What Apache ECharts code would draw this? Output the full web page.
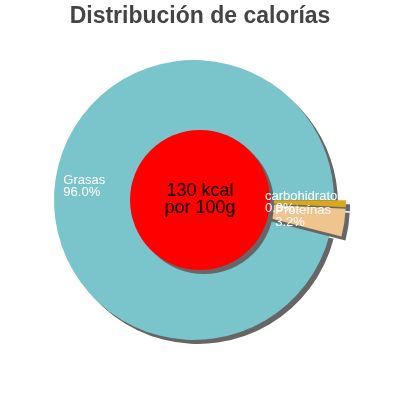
<!DOCTYPE html>
<html>
<head>
<meta charset="utf-8">
<script src="https://cdn.jsdelivr.net/npm/echarts@6/dist/echarts.min.js"></script>
<style>
  html, body { margin: 0; padding: 0; background: #fff; }
  #chart { width: 400px; height: 400px; }
</style>
</head>
<body>
<div id="chart"></div>
<script>
// datos
const titleText = 'Distribución de calorías';
const nutrients = ['Grasas', 'carbohidratos', 'Proteínas'];
const percents = [96.0, 0.8, 3.2];
const exploded = [false, true, true];
const colors = ['#7ac4cc', '#d8a71c', '#efc48f'];
const kcal = [130];
const kcalLabel = ['130 kcal\npor 100g'];

const labelFont = '13px "Liberation Sans"';

// ancho de cada etiqueta, para alinear las dos líneas a la izquierda
const ctx = document.createElement('canvas').getContext('2d');
ctx.font = labelFont;
const textW = s => Math.ceil(ctx.measureText(s).width);

const chart = echarts.init(document.getElementById('chart'));

const pieData = nutrients.map((n, i) => ({
  name: n,
  value: percents[i],
  selected: exploded[i],
  itemStyle: { color: colors[i] }
}));

const shadow = {
  shadowColor: '#666',
  shadowBlur: 0,
  shadowOffsetX: 4,
  shadowOffsetY: 4
};

const labelData = nutrients.map((n, i) => {
  const pct = percents[i].toFixed(1) + '%';
  const w = Math.max(textW(n), textW(pct));
  return {
    name: n,
    value: percents[i],
    label: {
      formatter: '{t|' + n + '}\n{t|' + pct + '}',
      rich: {
        t: {
          width: w,
          align: 'left',
          fontFamily: 'Liberation Sans',
          fontSize: 13,
          lineHeight: 12,
          color: '#fff'
        }
      }
    }
  };
});

const option = {
  animation: false,
  title: {
    text: titleText,
    left: 'center',
    top: 0,
    textStyle: {
      fontFamily: 'Liberation Sans',
      fontSize: 23,
      fontWeight: 'bold',
      color: '#444'
    }
  },
  series: [
    {
      // pastel principal
      type: 'pie',
      center: [194, 200],
      radius: [0, 140],
      startAngle: -14.4,
      clockwise: true,
      selectedMode: 'multiple',
      selectedOffset: 12,
      label: { show: false },
      labelLine: { show: false },
      emphasis: { disabled: true },
      itemStyle: Object.assign({ borderWidth: 0 }, shadow),
      data: pieData
    },
    {
      // círculo rojo con las kcal
      type: 'pie',
      center: [200, 200],
      radius: [0, 70],
      silent: true,
      emphasis: { disabled: true },
      itemStyle: Object.assign({ color: '#ff0000' }, shadow),
      label: {
        show: true,
        position: 'center',
        formatter: () => kcalLabel[0],
        fontFamily: 'Liberation Sans',
        fontSize: 18,
        lineHeight: 17,
        color: '#000'
      },
      labelLine: { show: false },
      data: kcal.map(v => ({ name: 'kcal', value: v }))
    },
    {
      // etiquetas de los sectores
      type: 'pie',
      center: [194, 200],
      radius: [75, 140],
      startAngle: -14.4,
      clockwise: true,
      silent: true,
      avoidLabelOverlap: false,
      minShowLabelAngle: 0,
      labelLayout: { hideOverlap: false },
      emphasis: { disabled: true },
      itemStyle: { color: 'rgba(0,0,0,0)' },
      label: {
        show: true,
        position: 'inside',
        overflow: 'none'
      },
      labelLine: { show: false },
      data: labelData
    }
  ]
};

chart.setOption(option);
</script>
</body>
</html>
